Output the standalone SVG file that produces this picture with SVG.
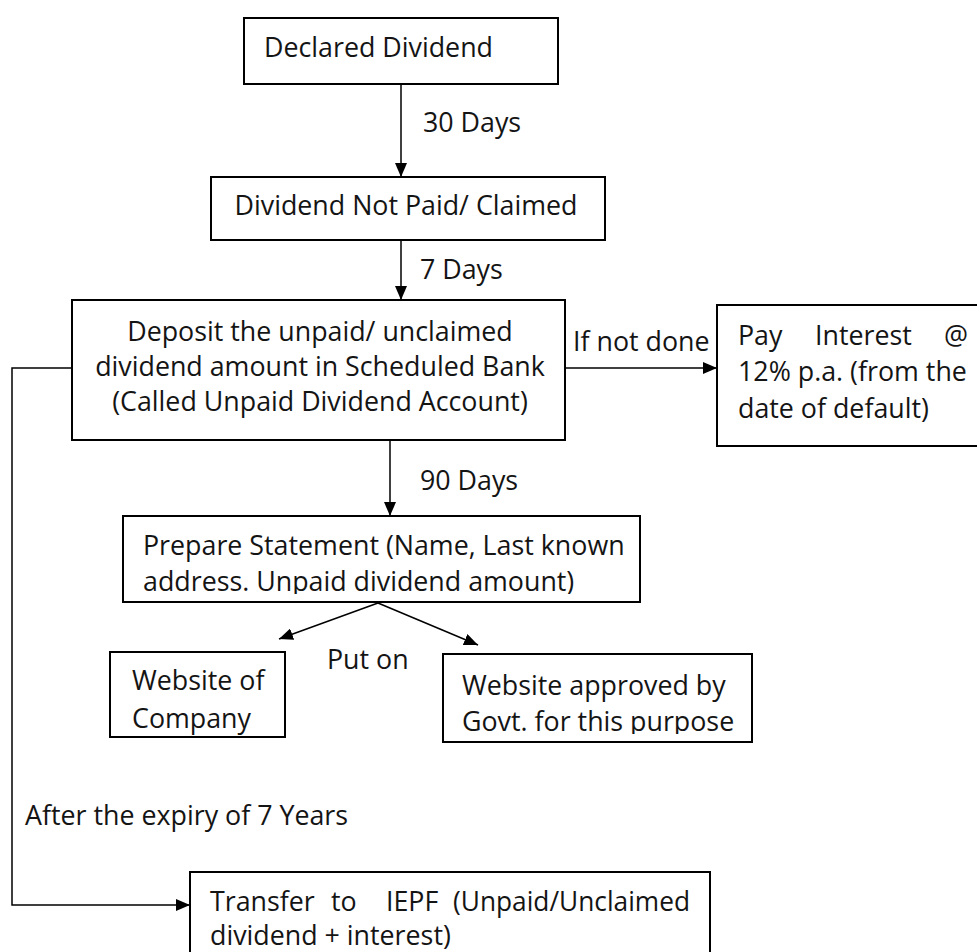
<svg xmlns="http://www.w3.org/2000/svg" width="977" height="952" viewBox="0 0 977 952">
  <defs>
    <marker id="arrow" viewBox="0 0 14 12" refX="14" refY="6" markerWidth="14" markerHeight="12" markerUnits="userSpaceOnUse" orient="auto">
      <path d="M0,0 L14,6 L0,12 z" fill="#000"/>
    </marker>
    <clipPath id="clipStmt"><rect x="123" y="516" width="517" height="78"/></clipPath>
    <clipPath id="clipGovt"><rect x="443" y="654" width="309" height="80"/></clipPath>
  </defs>
  <style>
    .box { fill: #fff; stroke: #000; stroke-width: 2; }
    .t { font-family: "Open Sans", "Noto Sans", "DejaVu Sans", sans-serif; font-size: 26.8px; fill: #141414; }
    .mid { text-anchor: middle; }
    .end { text-anchor: end; }
    .edge { fill: none; stroke: #000; stroke-width: 1.5; }
  </style>
  <rect width="977" height="952" fill="#fff"/>

  <g id="connectors">
    <line class="edge" x1="401" y1="84" x2="401" y2="177" marker-end="url(#arrow)"/>
    <line class="edge" x1="401" y1="240" x2="401" y2="300" marker-end="url(#arrow)"/>
    <line class="edge" x1="565" y1="368" x2="717" y2="368" marker-end="url(#arrow)"/>
    <line class="edge" x1="390" y1="440" x2="390" y2="516" marker-end="url(#arrow)"/>
    <line class="edge" x1="378" y1="603" x2="279" y2="639" marker-end="url(#arrow)"/>
    <line class="edge" x1="378" y1="603" x2="478" y2="645" marker-end="url(#arrow)"/>
    <polyline class="edge" points="72,368 12,368 12,905 190,905" marker-end="url(#arrow)"/>
    <text class="t" x="423" y="132">30 Days</text>
    <text class="t" x="420" y="279">7 Days</text>
    <text class="t" x="573" y="351">If not done</text>
    <text class="t" x="420" y="490">90 Days</text>
    <text class="t" x="327" y="669">Put on</text>
    <text class="t" x="25" y="825">After the expiry of 7 Years</text>
  </g>

  <g id="declared">
    <rect class="box" x="244" y="18" width="314" height="66"/>
    <text class="t" x="264" y="57">Declared Dividend</text>
  </g>

  <g id="not-paid">
    <rect class="box" x="211" y="177" width="394" height="63"/>
    <text class="t mid" x="406" y="215">Dividend Not Paid/ Claimed</text>
  </g>

  <g id="deposit">
    <rect class="box" x="72" y="300" width="493" height="140"/>
    <text class="t mid" x="320" y="341">Deposit the unpaid/ unclaimed</text>
    <text class="t mid" x="320" y="376">dividend amount in Scheduled Bank</text>
    <text class="t mid" x="320" y="411">(Called Unpaid Dividend Account)</text>
  </g>

  <g id="interest">
    <rect class="box" x="717" y="305" width="262" height="141"/>
    <text class="t" x="738" y="345">Pay</text>
    <text class="t" x="815" y="345">Interest</text>
    <text class="t end" x="968" y="345">@</text>
    <text class="t" x="738" y="381">12% p.a. (from the</text>
    <text class="t" x="738" y="418">date of default)</text>
  </g>

  <g id="statement">
    <rect class="box" x="123" y="516" width="517" height="86"/>
    <text class="t" x="143" y="555">Prepare Statement (Name, Last known</text>
    <text class="t" x="143" y="591" clip-path="url(#clipStmt)">address. Unpaid dividend amount)</text>
  </g>

  <g id="company-site">
    <rect class="box" x="110" y="652" width="175" height="85"/>
    <text class="t" x="132" y="690">Website of</text>
    <text class="t" x="132" y="728">Company</text>
  </g>

  <g id="govt-site">
    <rect class="box" x="443" y="654" width="309" height="88"/>
    <text class="t" x="462" y="695">Website approved by</text>
    <text class="t" x="462" y="731" clip-path="url(#clipGovt)">Govt. for this purpose</text>
  </g>

  <g id="iepf">
    <rect class="box" x="190" y="872" width="520" height="90"/>
    <text class="t" x="210" y="911">Transfer</text>
    <text class="t" x="331" y="911">to</text>
    <text class="t" x="386" y="911">IEPF</text>
    <text class="t" x="453" y="911" textLength="237" lengthAdjust="spacingAndGlyphs">(Unpaid/Unclaimed</text>
    <text class="t" x="210" y="945">dividend + interest)</text>
  </g>
</svg>
